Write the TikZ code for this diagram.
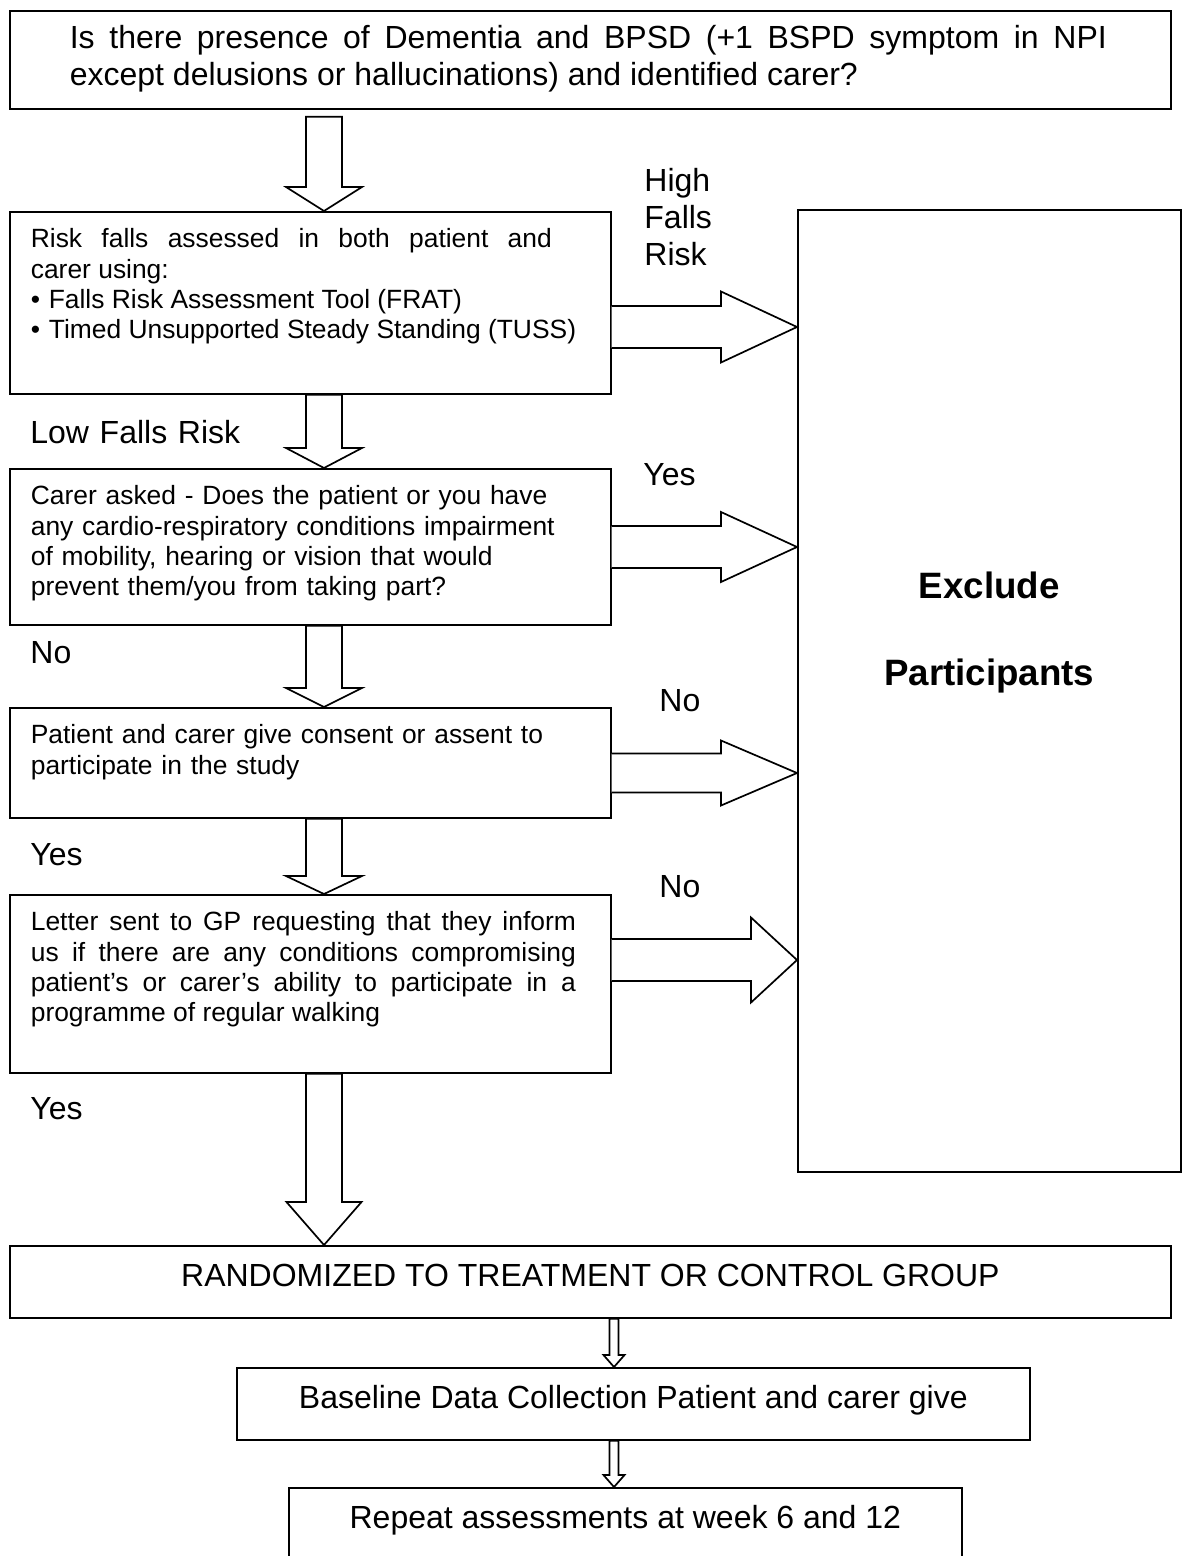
\documentclass[tikz,border=0pt]{standalone}
\usepackage{fontspec}
\setmainfont{Liberation Sans}
\usetikzlibrary{calc, positioning}
\newcommand{\bodyfont}{\fontsize{13.2pt}{15.15pt}\selectfont}
\newcommand{\largefont}{\fontsize{16pt}{18.4pt}\selectfont}
\newcommand{\boldfont}{\fontsize{18.35pt}{43.5pt}\selectfont\bfseries}
\newcommand{\bullitem}[1]{\makebox[9pt][l]{\textbullet}#1}
% justified block: width, right indent, text
\newcommand{\justblock}[3]{\parbox[t]{#1}{\rightskip=#2\relax
  \spaceskip=0.278em plus 0.6em minus 0.08em\relax #3}}
% hollow block arrows: from, to, shaft half width, head half width, head length
\newcommand{\fatdown}[5]{%
  \draw[fatarr] ($(#1)+(-#3,0)$) -- ($(#2)+(-#3,-#5)$) -- ($(#2)+(-#4,-#5)$)
    -- (#2) -- ($(#2)+(#4,-#5)$) -- ($(#2)+(#3,-#5)$) -- ($(#1)+(#3,0)$) -- cycle;}
\newcommand{\fatright}[5]{%
  \draw[fatarr] ($(#1)+(0,-#3)$) -- ($(#2)+(-#5,-#3)$) -- ($(#2)+(-#5,-#4)$)
    -- (#2) -- ($(#2)+(-#5,#4)$) -- ($(#2)+(-#5,#3)$) -- ($(#1)+(0,#3)$);}
\tikzset{
  flowbox/.style={draw, line width=0.85pt, rectangle, anchor=north west,
                  inner xsep=10.5pt, inner ysep=8.5pt, text width=279.5pt,
                  text height=9.5pt, font=\bodyfont},
  cbox/.style={draw, line width=0.85pt, rectangle, anchor=north west,
               inner sep=0pt, minimum height=36pt, text height=11.5pt,
               text depth=7pt, font=\largefont},
  lbl/.style={anchor=base west, inner sep=0pt, text width=120pt, font=\largefont},
  fatarr/.style={draw, line width=0.85pt, fill=white, line join=miter},
}
\begin{document}
\begin{tikzpicture}[x=0.5pt, y=-0.5pt]
  \path[use as bounding box, fill=white] (0,0) rectangle (1182,1556);
  % Screening question
  \node[flowbox, inner xsep=30pt, inner ysep=7.3pt, text width=520.5pt,
        text height=11.7pt, text depth=22.7pt, font=\largefont, minimum height=49pt]
        (question) at (9,10)
        {\justblock{520.5pt}{2pt}{Is there presence of Dementia and BPSD (+1 BSPD symptom in NPI\linebreak
         except delusions or hallucinations) and identified carer?}};
  % Screening steps
  \node[flowbox, text depth=64.5pt] (riskbox) at (9,211)
        {\justblock{279.5pt}{19pt}{Risk falls assessed in both patient and\linebreak carer using:\par
         \rightskip=0pt\relax\bullitem{Falls Risk Assessment Tool (FRAT)}\\
         \bullitem{Timed Unsupported Steady Standing (TUSS)}}};
  \node[flowbox, text depth=51.5pt] (carerbox) at (9,468)
        {Carer asked - Does the patient or you have\\
         any cardio-respiratory conditions impairment\\
         of mobility, hearing or vision that would\\
         prevent them/you from taking part?};
  \node[flowbox, text depth=28.5pt] (consentbox) at (9,707)
        {Patient and carer give consent or assent to\\
         participate in the study};
  \node[flowbox, text depth=62.5pt] (letterbox) at (9,894)
        {\justblock{279.5pt}{7pt}{Letter sent to GP requesting that they inform\linebreak
         us if there are any conditions compromising\linebreak
         patient’s or carer’s ability to participate in a\linebreak
         programme of regular walking}};
  % Exclusion
  \node[draw, line width=0.85pt, anchor=north west, minimum width=191.5pt,
        minimum height=481pt, inner sep=0pt, text width=180pt, align=center,
        text height=13pt, text depth=105pt, font=\boldfont]
        (excludebox) at (797,209) {Exclude\\Participants};
  % Study stages
  \node[cbox, minimum width=580.5pt] (randombox) at (9,1245)
        {RANDOMIZED TO TREATMENT OR CONTROL GROUP};
  \node[cbox, minimum width=396.5pt] (baselinebox) at (236,1367)
        {Baseline Data Collection Patient and carer give};
  \node[cbox, minimum width=336.5pt] (repeatbox) at (288,1487)
        {Repeat assessments at week 6 and 12};
  % Branch labels
  \node[lbl] (highlbl) at (644,192) {High\\Falls\\Risk};
  \node[lbl] (lowlbl) at (30,443) {Low Falls Risk};
  \node[lbl] (yeslbla) at (643,485) {Yes};
  \node[lbl] (nolbla) at (30,663) {No};
  \node[lbl] (nolblb) at (659,711) {No};
  \node[lbl] (yeslblb) at (30,865) {Yes};
  \node[lbl] (nolblc) at (659,897) {No};
  \node[lbl] (yeslblc) at (30,1119) {Yes};
  % Arrow columns and rows
  \coordinate (arrcol) at (324,0);
  \coordinate (smallcol) at (614,0);
  \coordinate (rowa) at (0,327);
  \coordinate (rowb) at (0,547);
  \coordinate (rowc) at (0,773);
  \coordinate (rowd) at (0,960);
  \coordinate (qgap) at ($(arrcol |- question.south)+(0,7)$);
  % Downward arrows
  \fatdown{qgap}{arrcol |- riskbox.north}{18}{38}{24}
  \fatdown{arrcol |- riskbox.south}{arrcol |- carerbox.north}{18}{38}{20}
  \fatdown{arrcol |- carerbox.south}{arrcol |- consentbox.north}{18}{38}{19}
  \fatdown{arrcol |- consentbox.south}{arrcol |- letterbox.north}{18}{38}{18}
  \fatdown{arrcol |- letterbox.south}{arrcol |- randombox.north}{18}{37.5}{43}
  \fatdown{smallcol |- randombox.south}{smallcol |- baselinebox.north}{4.5}{10.5}{12}
  \fatdown{smallcol |- baselinebox.south}{smallcol |- repeatbox.north}{4.5}{10.5}{12}
  % Arrows to exclusion
  \fatright{riskbox.east |- rowa}{excludebox.west |- rowa}{21}{35.5}{76}
  \fatright{carerbox.east |- rowb}{excludebox.west |- rowb}{21}{35}{76}
  \fatright{consentbox.east |- rowc}{excludebox.west |- rowc}{19.5}{32.5}{76}
  \fatright{letterbox.east |- rowd}{excludebox.west |- rowd}{21}{42.5}{46}
\end{tikzpicture}
\end{document}
